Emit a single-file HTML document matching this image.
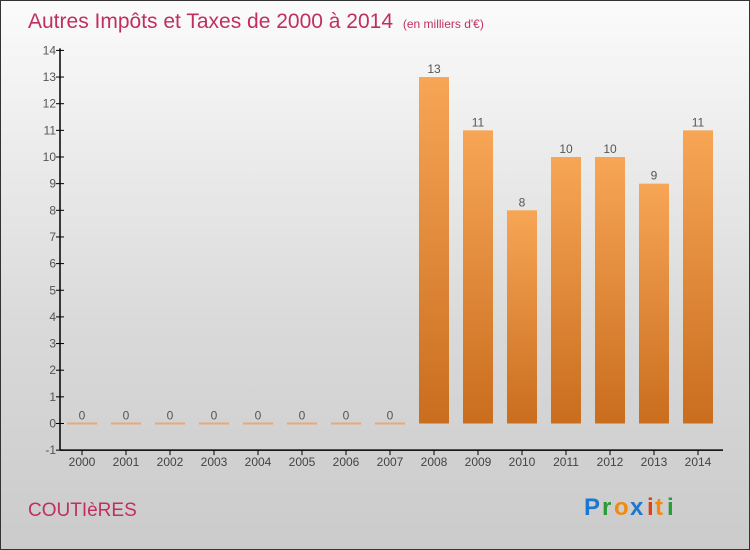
<!DOCTYPE html>
<html><head><meta charset="utf-8"><style>
body{margin:0;}
#wrap{width:748px;height:548px;border:1px solid #333;background:linear-gradient(#fbfbfb,#d9d9d9 60%,#cbcbcb);position:relative;font-family:"Liberation Sans",sans-serif;overflow:hidden}
</style></head><body>
<div id="wrap">
<svg width="748" height="548" id="svg">
<defs><linearGradient id="bg" x1="0" x2="0" y1="0" y2="1"><stop offset="0" stop-color="#f7a656"/><stop offset="1" stop-color="#c96d1e"/></linearGradient></defs>
<text x="27" y="27" font-size="21" fill="#c0305e">Autres Impôts et Taxes de 2000 à 2014 <tspan font-size="12" dx="4">(en milliers d'€)</tspan></text>
<text x="27" y="515" font-size="19" fill="#c0305e">COUTIèRES</text>
<g font-size="24" font-weight="bold"><text x="583" y="514" fill="#1a78d0">P</text><text x="601" y="514" fill="#2a9a3a">r</text><text x="613" y="514" fill="#f08a10">o</text><text x="629" y="514" fill="#1a78d0">x</text><text x="646" y="514" fill="#e04010">i</text><text x="654" y="514" fill="#f08a10">t</text><text x="666" y="514" fill="#2a9a3a">i</text></g>
<g id="axes"></g><g id="bars"></g>
</svg></div>
<script>
const years=["2000","2001","2002","2003","2004","2005","2006","2007","2008","2009","2010","2011","2012","2013","2014"];
const values=[0,0,0,0,0,0,0,0,13,11,8,10,10,9,11];
const yTicks=[-1,0,1,2,3,4,5,6,7,8,9,10,11,12,13,14];
const ns="http://www.w3.org/2000/svg";
const y=v=>422.5-v*26.65;
const x=i=>81+i*44;
function mk(t,a,p){const e=document.createElementNS(ns,t);for(const k in a)e.setAttribute(k,a[k]);p.appendChild(e);return e;}
const ax=document.getElementById('axes'),bg=document.getElementById('bars');
let l=mk('line',{x1:59,x2:59,y1:y(14)-2,y2:y(-1),stroke:'#000','stroke-width':1.5},ax);

l=mk('line',{x1:59,x2:722,y1:y(-1),y2:y(-1),stroke:'#000','stroke-width':1.5},ax);

yTicks.forEach(v=>{
 const t=mk('line',{x1:55,x2:63,y1:y(v),y2:y(v),stroke:'#000'},ax);
 
 const tx=mk('text',{x:55,y:y(v)+4,'font-size':12,fill:'#555','text-anchor':'end'},ax);tx.textContent=v;
 
});
years.forEach((yr,i)=>{
 const t=mk('line',{x1:x(i),x2:x(i),y1:y(-1),y2:y(-1)+5,stroke:'#000'},ax);
 
 const tx=mk('text',{x:x(i),y:y(-1)+16,'font-size':12,fill:'#444','text-anchor':'middle'},ax);tx.textContent=yr;
 
 const v=values[i];
 let r;
 if(v===0){r=mk('rect',{x:x(i)-15,y:y(0)-1,width:30,height:2,fill:'#e8a878'},bg);}
 else{r=mk('rect',{x:x(i)-15,y:y(v),width:30,height:y(0)-y(v),fill:'url(#bg)'},bg);}
 
 const lb=mk('text',{x:x(i),y:y(v)-4,'font-size':12,fill:'#555','text-anchor':'middle'},bg);lb.textContent=v;
 
});
</script>
</body></html>
